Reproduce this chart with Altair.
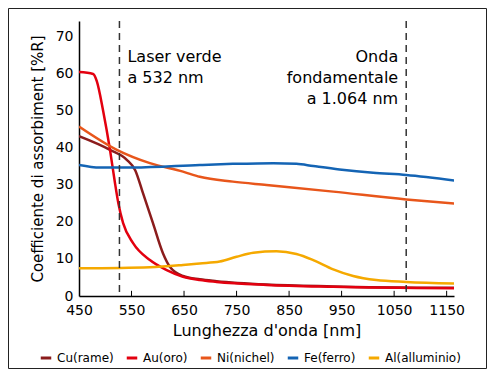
import altair as alt
import pandas as pd

# ---- data ----
cu_x = [450, 509, 541, 557, 572, 591, 610, 623, 648, 680, 712, 807, 934, 1165]
cu_y = [43.2, 39.5, 36.8, 34.0, 27.7, 19.6, 11.5, 7.9, 5.4, 4.5, 4.0, 3.1, 2.6, 2.2]

au_x = [450, 477, 484, 496, 509, 518, 525, 534, 553, 585, 617, 648, 680, 712, 807, 934, 1165]
au_y = [60.5, 60.0, 58.0, 50.0, 39.5, 31.0, 25.0, 19.7, 14.3, 9.7, 7.0, 5.2, 4.3, 3.8, 3.0, 2.5, 2.1]

ni_x = [450, 522, 585, 648, 680, 743, 807, 934, 1073, 1165]
ni_y = [45.8, 39.5, 35.9, 33.6, 32.2, 30.9, 30.0, 28.2, 26.1, 25.0]

fe_x = [450, 490, 553, 680, 743, 820, 864, 896, 946, 1010, 1073, 1165]
fe_y = [35.4, 34.7, 34.7, 35.4, 35.7, 35.9, 35.7, 35.1, 34.2, 33.3, 32.7, 31.2]

al_x = [450, 585, 648, 680, 718, 750, 782, 826, 864, 896, 934, 972, 1016, 1073, 1165]
al_y = [7.5, 7.8, 8.4, 8.8, 9.3, 10.6, 11.7, 12.1, 11.35, 9.7, 7.2, 5.4, 4.3, 3.8, 3.4]

series_names = ["Cu(rame)", "Au(oro)", "Ni(nichel)", "Fe(ferro)", "Al(alluminio)"]
series_colors = ["#8b1c1c", "#e3000f", "#e8561b", "#1464b4", "#f5a900"]
draw_order = [3, 4, 2, 1, 0]

laser_lines_x = [527, 1073]
x_ticks = [450, 550, 650, 750, 850, 950, 1050, 1150]
y_ticks = [0, 10, 20, 30, 40, 50, 60, 70]

notes = pd.DataFrame({
    "x": [527, 1073],
    "y": [66.8, 66.8],
    "label": ["Laser verde\na 532 nm", "Onda\nfondamentale\na 1.064 nm"],
})

rows = []
for name, xs, ys, o in zip(series_names, [cu_x, au_x, ni_x, fe_x, al_x],
                           [cu_y, au_y, ni_y, fe_y, al_y], draw_order):
    for xv, yv in zip(xs, ys):
        rows.append({"metal": name, "nm": xv, "val": yv, "ord": o})
df = pd.DataFrame(rows)

FONT = "DejaVu Sans"
W, H = 375, 275

xscale = alt.Scale(domain=[450, 1164], nice=False, zero=False)
yscale = alt.Scale(domain=[0, 74.3], nice=False)

x_axis = alt.Axis(title="Lunghezza d'onda [nm]", values=x_ticks, format="d",
                  grid=False, ticks=False, labelPadding=7, titlePadding=5,
                  labelOverlap=False, labelFlush=False,
                  domainColor="black", domainWidth=1.5, labelColor="black",
                  titleColor="black", labelFontSize=14, titleFontSize=16,
                  labelFont=FONT, titleFont=FONT, titleFontWeight="normal")
y_axis = alt.Axis(title="Coefficiente di assorbiment [%R]", values=y_ticks, format="d",
                  grid=False, ticks=False, labelPadding=6, titlePadding=10,
                  labelOverlap=False, labelFlush=False,
                  domainColor="black", domainWidth=1.5, labelColor="black",
                  titleColor="black", labelFontSize=14, titleFontSize=15,
                  labelFont=FONT, titleFont=FONT, titleFontWeight="normal")

lines = alt.Chart(df).mark_line(interpolate="monotone", strokeWidth=2.5, clip=True).encode(
    x=alt.X("nm:Q", scale=xscale, axis=x_axis),
    y=alt.Y("val:Q", scale=yscale, axis=y_axis),
    color=alt.Color("metal:N",
                    scale=alt.Scale(domain=series_names, range=series_colors),
                    legend=alt.Legend(title=None, orient="none", direction="horizontal",
                                      legendX=-40, legendY=330, symbolType="stroke",
                                      symbolSize=110, symbolStrokeWidth=3,
                                      labelFontSize=12, labelFont=FONT, labelColor="black",
                                      labelOffset=4, columnPadding=6, symbolOffset=0)),
    order=alt.Order("ord:Q"),
    detail="metal:N",
)

tick_df = pd.DataFrame({"t": x_ticks[1:], "y0": 0.0, "y1": 1.4})
tick_marks = alt.Chart(tick_df).mark_rule(color="black", strokeWidth=1).encode(
    x=alt.X("t:Q", scale=xscale, axis=x_axis),
    y=alt.Y("y0:Q", scale=yscale, axis=y_axis), y2="y1:Q")

dash_df = pd.DataFrame({"d": laser_lines_x})
dashes = alt.Chart(dash_df).mark_rule(color="#333333", strokeWidth=1.5,
                                      strokeDash=[7, 5]).encode(
    x=alt.X("d:Q", scale=xscale, axis=x_axis))

note_left = alt.Chart(notes.iloc[[0]]).mark_text(
    align="left", baseline="top", dx=8, fontSize=16, font=FONT, lineBreak="\n",
    lineHeight=21, color="black").encode(
    x=alt.X("x:Q", scale=xscale, axis=x_axis), y=alt.Y("y:Q", scale=yscale, axis=y_axis),
    text="label:N")
note_right = alt.Chart(notes.iloc[[1]]).mark_text(
    align="right", baseline="top", dx=-8, fontSize=16, font=FONT, lineBreak="\n",
    lineHeight=21, color="black").encode(
    x=alt.X("x:Q", scale=xscale, axis=x_axis), y=alt.Y("y:Q", scale=yscale, axis=y_axis),
    text="label:N")

frame = alt.Chart(pd.DataFrame({"a": [0]})).mark_rect(
    filled=False, stroke="#222222", strokeWidth=1).encode(
    x=alt.value(-70.5), x2=alt.value(407.5), y=alt.value(-12.5), y2=alt.value(347.5))

chart = alt.layer(lines, dashes, tick_marks, note_left, note_right, frame).properties(
    width=W, height=H,
    autosize=alt.AutoSizeParams(type="none"),
    padding={"left": 71, "top": 13, "right": 33, "bottom": 73},
    background="white",
).configure_view(strokeWidth=0)

chart.save("out.html", embed_options={"renderer": "svg", "actions": False})
